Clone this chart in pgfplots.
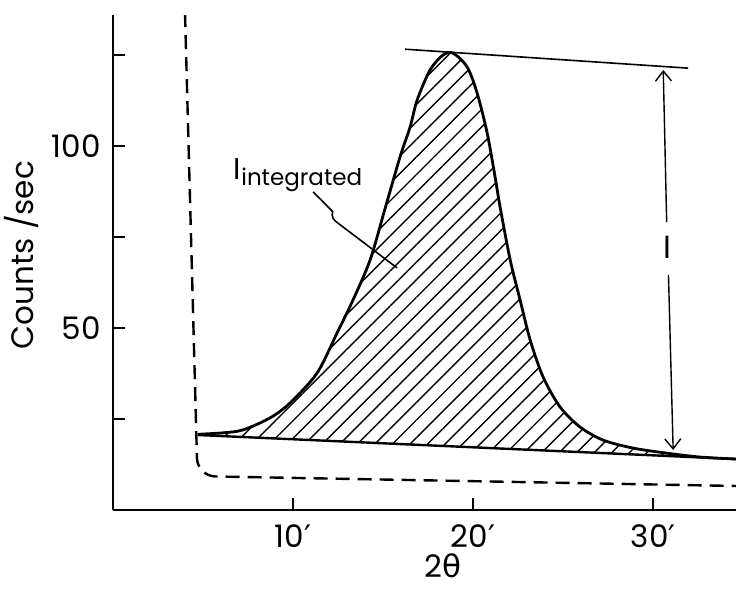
\documentclass[border=0pt]{standalone}
\usepackage{fontspec}
\setmainfont{Poppins}
\newfontfamily\symfont{DejaVu Sans}
\usepackage{pgfplots}
\pgfplotsset{compat=1.18}
\usepgfplotslibrary{fillbetween}
\usetikzlibrary{patterns.meta,arrows.meta}

\begin{document}
\begin{tikzpicture}
\begin{axis}[
  scale only axis, width=311.5pt, height=247.5pt,
  xmin=0, xmax=34.6, ymin=0, ymax=136,
  axis x line*=bottom, axis y line*=left,
  axis line style={-, line width=1pt},
  tick align=inside, major tick length=6pt,
  every tick/.style={line width=0.9pt, black},
  xtick={10,20,30},
  xticklabels={10{\symfont ′},20{\symfont ′},30{\symfont ′}},
  ytick={25,50,75,100,125},
  yticklabels={,50,,100,},
  ticklabel style={font=\fontsize{15.5}{17}\selectfont},
  yticklabel style={inner sep=0pt, xshift=-6pt},
  xticklabel style={inner sep=0pt, yshift=-7pt},
  xlabel={2{\symfont θ}},
  xlabel style={at={(rel axis cs:0.53,0)}, anchor=center, yshift=-28pt,
                font=\fontsize{15.5}{17}\selectfont},
  ylabel={Counts /sec},
  ylabel style={at={(rel axis cs:0,0.515)}, anchor=center, yshift=45.5pt,
                font=\fontsize{15.5}{17}\selectfont},
]
% measured diffraction peak
\addplot[name path=peak, line width=1.4pt, smooth, tension=0.5] coordinates {
  (4.72,20.8) (6.1,21.2) (7.22,22.0) (8.72,25.3) (9.83,29.4) (11.33,37.6)
  (12.44,48.6) (13.33,57.7) (14.28,68.7) (15.11,82.8) (15.94,97.0)
  (16.5,105.2) (16.89,112.6) (17.61,120.9) (18.33,125.0) (18.89,125.5)
  (19.67,121.7) (20.22,114.6) (20.78,103.6) (21.22,91.5) (21.5,83.2)
  (22.06,68.7) (22.61,57.7) (23.17,46.7) (23.89,36.5) (24.83,28.3)
  (25.94,22.8) (27.22,19.2) (28.89,17.0) (30.78,15.6) (32.6,14.55) (34.6,14.0)
};
% background line under the peak
\addplot[name path=base, line width=1.2pt] coordinates {(4.72,20.6) (34.6,14.0)};
% integrated intensity (hatched)
\addplot[pattern={Lines[angle=45,distance=6.2pt,line width=0.7pt]}, draw=none]
  fill between[of=peak and base];
% direct beam tail
\addplot[dash pattern=on 7pt off 4pt, line width=1.2pt, rounded corners=9pt]
  coordinates {(4.0,136.5) (4.69,9.3) (34.6,6.6)};
% line through the peak maximum
\addplot[line width=0.8pt] coordinates {(16.22,126.6) (31.94,121.4)};

% peak height I
\node[font=\fontsize{16}{18}\selectfont] at (axis cs:30.8,72.3) {$\mathrm{I}$};
\draw[-{Straight Barb[length=5pt,width=8pt]}, line width=0.7pt]
  (axis cs:30.75,79.1) -- (axis cs:30.56,120.9);
\draw[-{Straight Barb[length=5pt,width=8pt]}, line width=0.7pt]
  (axis cs:30.85,64.6) -- (axis cs:31.11,16.5);

% integrated intensity label with leader
\node[anchor=center] at (axis cs:10.28,92)
  {\fontsize{15}{17}\selectfont$\mathrm{I}$\raisebox{-0.35ex}{\fontsize{11.5}{13}\selectfont integrated}};
\draw[line width=0.8pt] (axis cs:11.11,87.4) -- (axis cs:12.2,82.0)
  to[out=-110,in=150] (axis cs:12.5,78.8) -- (axis cs:15.78,66.5);
\end{axis}
\pgfresetboundingbox
\path (current axis.south west) ++(-56.5pt,-40.5pt) rectangle ++(368pt,295.5pt);
\end{tikzpicture}
\end{document}
